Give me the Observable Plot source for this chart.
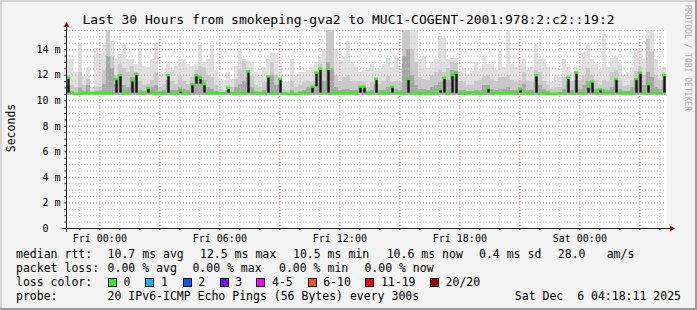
<!DOCTYPE html>
<html><head><meta charset="utf-8">
<script src="https://cdn.jsdelivr.net/npm/d3@7"></script>
<script src="https://cdn.jsdelivr.net/npm/@observablehq/plot@0.6"></script>
<style>
html,body{margin:0;padding:0;background:#f3f3f3;}
#chart{width:697px;height:310px;overflow:hidden;}
svg text{font-family:"DejaVu Sans Mono",monospace;}
</style></head><body><div id="chart"></div>
<script>
// ---- data ----
const startTime = Date.UTC(2025, 11, 4, 22, 20); // Thu 22:20 (30 h window)
const stepMinutes = 12;
const median = [11.8,10.6,10.55,10.55,10.6,10.6,10.6,10.6,10.6,10.6,
10.6,10.6,11.7,12.0,10.6,10.6,11.6,12.1,10.6,10.6,
11.0,10.6,10.6,10.6,10.6,12.0,10.6,10.55,10.8,10.55,
10.6,11.3,12.0,11.8,11.3,10.6,10.6,10.6,10.6,10.6,
11.0,10.6,10.6,10.6,10.6,12.3,10.7,10.6,10.6,10.6,
11.9,10.6,10.6,11.7,10.6,10.55,10.55,10.55,10.6,10.6,
10.6,11.1,12.2,12.5,10.6,12.5,10.6,10.6,10.6,10.6,
10.6,10.6,10.6,11.1,11.1,10.6,10.6,11.7,10.6,10.6,
10.6,11.1,10.6,10.6,10.6,11.7,10.6,10.55,10.55,10.6,
10.6,10.6,10.6,10.9,11.8,10.6,12.0,12.2,10.55,10.55,
10.65,10.65,10.6,10.55,10.6,11.0,10.6,10.6,10.6,10.6,
10.6,10.6,10.6,10.9,10.6,10.6,10.6,12.0,10.6,10.6,
10.55,10.55,10.55,10.6,10.6,11.8,10.6,12.2,10.6,10.6,
11.1,11.5,10.6,10.9,10.6,10.6,10.7,11.7,10.6,10.6,
10.6,10.6,11.7,12.2,10.6,11.3,10.6,10.6,10.6,12.0];
const smokeMax = [13.2,13.2,12.2,14.5,11.9,12.6,11.0,14.1,13.6,14.3,
15.5,14.6,13.2,13.6,14.3,13.2,13.2,12.8,14.0,12.7,
12.6,13.2,14.5,11.9,12.2,12.9,12.4,12.7,13.2,13.2,
12.8,12.7,12.8,14.3,13.0,13.2,14.3,12.4,11.7,11.6,
12.2,11.7,12.7,13.9,13.2,13.1,13.0,12.2,11.8,12.6,
13.2,13.7,13.7,12.7,11.4,11.4,13.2,11.9,12.2,12.2,
12.4,12.6,13.0,13.4,14.0,15.5,15.5,14.0,13.0,13.5,
14.6,13.0,12.6,12.2,12.4,12.4,12.8,12.3,12.4,12.8,
13.3,12.6,13.5,12.5,15.5,15.5,15.5,15.4,13.2,13.5,
12.5,13.0,13.2,14.9,14.9,13.2,13.3,13.3,12.3,12.5,
12.0,12.3,13.0,12.4,13.5,12.8,12.8,12.4,13.8,12.6,
15.5,12.8,12.6,12.8,13.2,12.4,12.6,14.4,13.2,13.2,
12.6,11.4,12.0,11.8,13.2,12.6,12.2,12.6,12.6,13.8,
14.3,13.2,12.8,12.4,15.2,12.6,13.3,13.5,12.8,12.0,
12.2,12.6,13.9,13.9,13.2,15.5,15.5,13.2,12.4,12.6];
const smokeMid = [12.0,11.2,11.0,12.2,11.2,11.7,10.7,11.0,11.0,12.4,
15.5,13.5,12.0,12.8,12.5,12.2,12.7,12.2,11.5,11.2,
11.3,11.6,12.2,11.0,11.3,12.0,11.5,11.3,11.9,11.5,
11.3,11.8,12.4,12.7,12.6,12.0,11.8,11.2,10.9,10.8,
11.2,11.0,11.7,12.4,13.1,12.4,11.9,11.2,11.0,11.4,
12.0,13.0,12.0,11.8,10.9,10.8,11.5,11.0,11.2,11.4,
11.5,11.4,12.0,12.8,12.5,15.5,15.5,12.0,11.5,11.8,
12.0,11.5,11.5,11.5,11.4,11.0,11.4,11.8,11.3,11.5,
11.9,11.4,11.5,11.4,15.5,15.5,14.0,13.0,11.8,11.7,
11.6,12.0,12.2,12.4,12.2,12.5,13.0,12.9,11.5,11.4,
11.2,11.2,11.5,11.6,11.9,12.0,11.7,11.5,11.8,11.8,
12.0,11.6,11.4,11.6,12.2,11.5,11.4,12.4,12.2,11.5,
11.2,10.9,11.0,11.0,11.8,12.0,11.5,12.3,11.6,12.0,
12.5,12.0,11.6,11.2,11.6,11.4,12.2,12.4,11.6,11.1,
11.2,11.6,12.3,12.6,12.0,14.8,13.8,12.0,11.6,12.2];
const smokeCore = [11.2,10.7,10.6,11.0,10.7,11.2,10.6,10.7,10.7,11.3,
13.5,12.5,11.3,12.0,11.2,11.0,11.8,11.8,10.8,10.7,
10.9,11.0,11.2,10.7,10.8,11.6,10.8,10.8,11.0,10.9,
10.8,11.2,11.8,12.0,11.6,11.0,10.9,10.7,10.6,10.6,
10.8,10.6,11.0,11.3,11.5,11.8,11.0,10.7,10.6,10.8,
11.4,12.0,11.2,11.3,10.6,10.6,10.8,10.6,10.7,10.8,
11.0,11.0,11.3,12.2,11.5,13.0,12.5,11.0,10.8,10.9,
10.9,10.8,10.8,11.0,10.9,10.7,10.8,11.3,10.8,10.8,
11.0,11.0,10.9,10.8,13.5,14.0,12.0,11.2,10.9,10.9,
10.8,11.0,11.2,11.4,11.5,11.6,12.4,12.3,10.8,10.8,
10.7,10.7,10.8,10.8,11.2,11.2,10.9,10.8,10.9,10.9,
11.0,10.8,10.8,11.0,11.3,10.8,10.8,11.8,11.2,10.9,
10.7,10.6,10.6,10.6,10.9,11.5,10.8,11.6,10.9,11.2,
11.5,11.5,10.9,10.9,10.9,10.8,11.0,11.6,10.9,10.7,
10.7,11.0,11.6,12.0,11.2,12.2,11.8,11.0,10.9,11.6];
const minRtt = 10.45;
const yMajorTicks = [0, 2, 4, 6, 8, 10, 12, 14];
const yMinorTicks = d3.range(0, 15.51, 0.5);
const title = "Last 30 Hours from smokeping-gva2 to MUC1-COGENT-2001:978:2:c2::19:2";
const rttStats = ["10.7 ms avg", "12.5 ms max", "10.5 ms min", "10.6 ms now", "0.4 ms sd", "28.0", "am/s"];
const lossStats = ["0.00 % avg", "0.00 % max", "0.00 % min", "0.00 % now"];
const lossLabels = ["0", "1", "2", "3", "4-5", "6-10", "11-19", "20/20"];
const lossColors = ["#26ff00", "#00b8ff", "#0059ff", "#7e00ff", "#ff00ff", "#ff5500", "#ff0000", "#a10000"];
const probeText = "20 IPv6-ICMP Echo Pings (56 Bytes) every 300s";
const stampText = "Sat Dec  6 04:18:11 2025";

// ---- table ----
const stepMs = stepMinutes * 60000;
const rows = median.map((m, i) => ({
  t0: new Date(startTime + i * stepMs),
  t1: new Date(startTime + (i + 1) * stepMs),
  tm: new Date(startTime + (i + 0.5) * stepMs),
  med: m,
  lo: Math.min(m, i > 0 ? median[i - 1] : m, i < median.length - 1 ? median[i + 1] : m),
  hi: smokeMax[i], mid: smokeMid[i], core: smokeCore[i]
}));
const t0 = new Date(startTime), t1 = new Date(startTime + 30 * 3600000);
const hourTicks = d3.utcHour.range(t0, t1);
const hour3Ticks = d3.utcHour.every(3).range(t0, t1);
const hour6Ticks = d3.utcHour.every(6).range(t0, t1);

const chart = Plot.plot({
  width: 697, height: 310,
  marginLeft: 66, marginRight: 31, marginTop: 30, marginBottom: 82,
  style: {background: "transparent", fontFamily: "DejaVu Sans Mono", fontSize: "10px", color: "#000", overflow: "visible"},
  x: {type: "utc", domain: [t0, t1], label: null},
  y: {domain: [0, 15.5], label: null},
  marks: [
    Plot.frame({fill: "#ffffff", stroke: null}),
    Plot.rect(rows, {x1: "t0", x2: "t1", y1: minRtt, y2: "hi", fill: "#e0e0e0", shapeRendering: "crispEdges"}),
    Plot.rect(rows, {x1: "t0", x2: "t1", y1: minRtt, y2: "mid", fill: "#cacaca", shapeRendering: "crispEdges"}),
    Plot.rect(rows, {x1: "t0", x2: "t1", y1: minRtt, y2: "core", fill: "#a6a6a6", shapeRendering: "crispEdges"}),
    Plot.gridY({ticks: yMinorTicks, stroke: "#c4c4c4", strokeOpacity: 1, strokeDasharray: "1,2"}),
    Plot.gridX({ticks: hourTicks, stroke: "#c4c4c4", strokeOpacity: 1, strokeDasharray: "1,2"}),
    Plot.gridY({ticks: yMajorTicks, stroke: "#e49a9a", strokeOpacity: 1, strokeDasharray: "1,2"}),
    Plot.gridX({ticks: hour3Ticks, stroke: "#e49a9a", strokeOpacity: 1, strokeDasharray: "1,2"}),
    Plot.ruleX(rows.filter(d => d.med > d.lo + 0.05), {x: "tm", y1: "lo", y2: "med", stroke: "#161616", strokeWidth: 2.4}),
    Plot.ruleY(rows, {x1: "t0", x2: "t1", y: "med", stroke: "#26ff00", strokeWidth: 2.3}),
    Plot.axisY({ticks: yMinorTicks, tickSize: 2, tickFormat: () => "", stroke: "#444"}),
    Plot.axisY({ticks: yMajorTicks, tickSize: 0, tickPadding: 6, fontSize: 10,
      tickFormat: d => d === 0 ? "0\u00a0\u00a0" : `${d} m`}),
    Plot.axisX({ticks: hourTicks, tickSize: 2, tickFormat: () => "", stroke: "#444"}),
    Plot.axisX({ticks: hour6Ticks, tickSize: 0, tickPadding: 6, fontSize: 10, tickFormat: d3.utcFormat("%a %H:%M")})
  ]
});
document.getElementById("chart").append(chart);

// ---- decorations: frame, axes, arrows, texts, legend ----
const svg = d3.select(chart);
const W = 697, H = 310;
const bg = svg.insert("g", ":first-child");
bg.append("rect").attr("x", 0).attr("y", 0).attr("width", W).attr("height", H).attr("fill", "#f3f3f3");
bg.append("rect").attr("x", 0).attr("y", 0).attr("width", W).attr("height", 2).attr("fill", "#d4d4d4");
bg.append("rect").attr("x", 0).attr("y", 0).attr("width", 2).attr("height", H).attr("fill", "#d4d4d4");
bg.append("rect").attr("x", 0).attr("y", H - 2).attr("width", W).attr("height", 2).attr("fill", "#9c9c9c");
bg.append("rect").attr("x", W - 2).attr("y", 0).attr("width", 2).attr("height", H).attr("fill", "#9c9c9c");

const ax = svg.append("g");
ax.append("line").attr("x1", 62).attr("x2", 671).attr("y1", 228.5).attr("y2", 228.5).attr("stroke", "#222");
ax.append("line").attr("x1", 66.5).attr("x2", 66.5).attr("y1", 232).attr("y2", 26).attr("stroke", "#222");
ax.append("path").attr("d", "M670,225.5L675,228.5L670,231.5Z").attr("fill", "#8b1010");
ax.append("path").attr("d", "M63.5,27L66.5,22L69.5,27Z").attr("fill", "#8b1010");

const tx = svg.append("g").attr("text-anchor", "start").style("white-space", "pre");
tx.append("text").attr("x", 348.5).attr("y", 24).attr("text-anchor", "middle").attr("font-size", 13).text(title);
tx.append("text").attr("transform", "translate(14.5,128) rotate(-90)").attr("text-anchor", "middle").attr("font-size", 11.5).text("Seconds");
tx.append("text").attr("transform", "translate(685,5) rotate(90)").attr("font-size", 8).attr("fill", "#aaaaaa").text("RRDTOOL / TOBI OETIKER");

const fs = 11.5;
const row = [258, 272, 286, 300];
tx.append("text").attr("x", 16).attr("y", row[0]).attr("font-size", fs).text("median rtt:");
const rttX = [107.6, 200, 293, 386.7, 479, 557.8, 606.7];
rttStats.forEach((s, i) => tx.append("text").attr("x", rttX[i]).attr("y", row[0]).attr("font-size", fs).text(s));
tx.append("text").attr("x", 16).attr("y", row[1]).attr("font-size", fs).text("packet loss:");
const lossX = [107.6, 192.4, 279, 364.4];
lossStats.forEach((s, i) => tx.append("text").attr("x", lossX[i]).attr("y", row[1]).attr("font-size", fs).text(s));
tx.append("text").attr("x", 16).attr("y", row[2]).attr("font-size", fs).text("loss color:");
const boxX = [108, 145.3, 182.7, 219.6, 256.4, 307.6, 365.3, 430];
lossLabels.forEach((s, i) => {
  tx.append("rect").attr("x", Math.round(boxX[i]) + 0.5).attr("y", 278.5).attr("width", 8).attr("height", 8)
    .attr("fill", lossColors[i]).attr("stroke", "#000");
  tx.append("text").attr("x", boxX[i] + 15.6).attr("y", row[2]).attr("font-size", fs).text(s);
});
tx.append("text").attr("x", 16).attr("y", row[3]).attr("font-size", fs).text("probe:");
tx.append("text").attr("x", 107.6).attr("y", row[3]).attr("font-size", fs).text(probeText);
tx.append("text").attr("x", 681).attr("y", row[3]).attr("text-anchor", "end").attr("font-size", fs).text(stampText);
</script></body></html>
